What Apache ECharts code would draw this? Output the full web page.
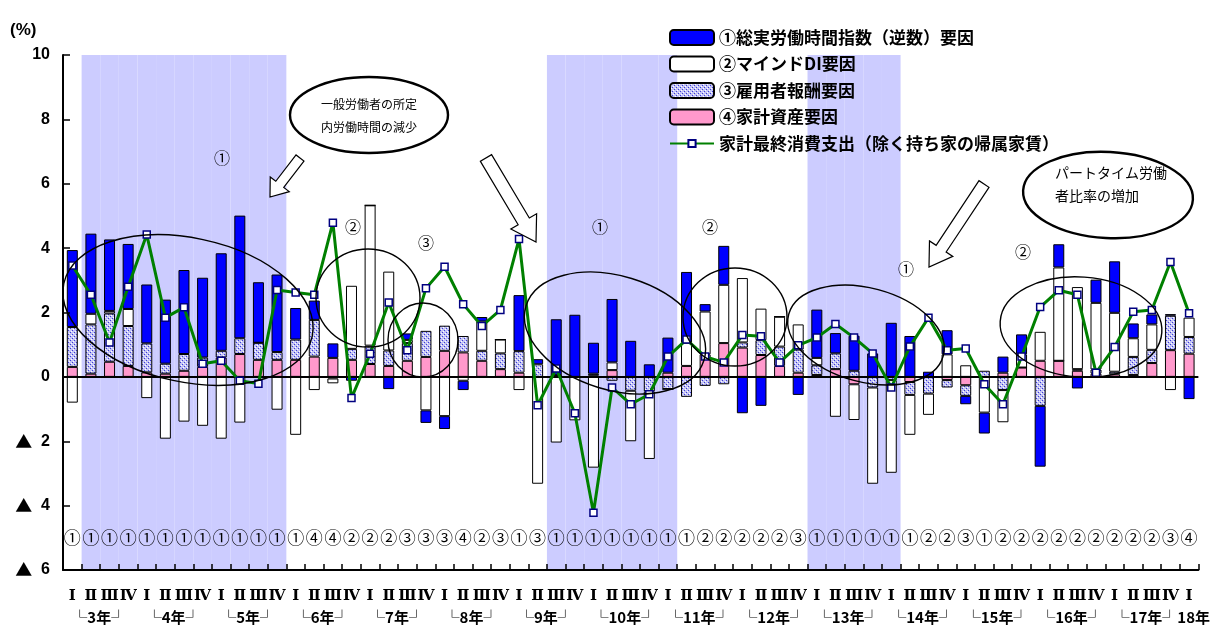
<!DOCTYPE html>
<html>
<head>
<meta charset="utf-8">
<script src="https://cdn.jsdelivr.net/npm/echarts@6/dist/echarts.min.js"></script>
<style>
  html, body { margin: 0; padding: 0; background: #ffffff; }
  #chart { width: 1213px; height: 628px; }
</style>
</head>
<body>
<div id="chart"></div>
<script>
// Quarters from 平成3年Ⅰ to 平成18年Ⅰ
const fiscalYears = [3, 4, 5, 6, 7, 8, 9, 10, 11, 12, 13, 14, 15, 16, 17];
const quarterNames = ['Ⅰ', 'Ⅱ', 'Ⅲ', 'Ⅳ'];
const categories = [];
fiscalYears.forEach(y => quarterNames.forEach(q => categories.push(y + '年' + q)));
categories.push('18年Ⅰ');

// Year brackets written under each year's first quarter
const yearLabels = ['└3年┘', '└4年┘', '└5年┘', '└6年┘', '└7年┘', '└8年┘', '└9年┘', '└10年┘',
  '└11年┘', '└12年┘', '└13年┘', '└14年┘', '└15年┘', '└16年┘', '└17年┘18年'];

// 1 = quarter inside a shaded (recession) period
const recessionBand = [
  0, 1, 1, 1, 1, 1, 1, 1, 1, 1, 1, 1,
  0, 0, 0, 0, 0, 0, 0, 0, 0, 0, 0, 0, 0, 0,
  1, 1, 1, 1, 1, 1, 1,
  0, 0, 0, 0, 0, 0, 0,
  1, 1, 1, 1, 1,
  0, 0, 0, 0, 0, 0, 0, 0, 0, 0, 0, 0, 0, 0, 0, 0
];

// Main contributing factor of each quarter
const leadFactorMarks = [
  '①', '①', '①', '①', '①', '①', '①', '①', '①', '①', '①', '①',
  '①', '④', '④', '②', '②', '②', '③', '③', '③', '④', '②', '③', '①', '③',
  '①', '①', '①', '①', '①', '①', '①',
  '①', '②', '②', '②', '②', '②', '③',
  '①', '①', '①', '①', '①',
  '①', '②', '②', '③', '①', '②', '②', '②', '②', '②', '②', '②', '②', '②', '③', '④'
];

// ① 総実労働時間指数（逆数）要因
const hoursFactor = [
  2.39, 2.49, 2.22, 2.02, 1.83, 1.99, 2.61, 2.48, 3.03, 3.81, 1.88, 2.41,
  0.98, 0.60, 0.45, -0.12, 0, -0.38, 0.20, -0.39, -0.40, -0.29, 0.14, 0, 1.74, 0.16,
  1.74, 1.93, 0.96, 1.97, 1.12, 0.39, 1.09,
  2.20, 0.23, 1.21, -1.13, -0.90, 0, -0.56,
  1.50, 0.63, 1.09, 0.73, 1.68,
  1.27, 0.16, 0.75, -0.26, -0.65, 0.50, 0.62, -1.89, 0.72, -0.36, 0.72, 1.60, 0.46, 0.31, 0.05, -0.69
];
// ② マインドDI要因
const mindFactor = [
  -0.80, 0.33, 0.08, 0.53, -0.66, -1.92, -1.39, -1.52, -1.92, -1.42, 0, -1.02,
  -1.80, -0.41, -0.15, 1.96, 4.36, 2.45, 0.10, -1.04, -1.22, -0.12, 0.91, 0.43, -0.41, -3.32,
  -2.04, -1.35, -2.82, 0.24, -1.57, -2.10, 0,
  0.72, 1.33, 1.81, 2.00, 0.98, 0.93, 0.78,
  0.23, -1.24, -1.11, -2.99, -2.88,
  -1.24, -0.66, 0.70, 0.36, -1.11, -1.00, 0.41, 0.90, 2.90, 2.55, 2.07, 1.83, 0.58, 0.79, -0.41, 0.60
];
// ③ 雇用者報酬要因
const compFactor = [
  1.24, 1.53, 1.50, 1.24, 0.90, 0.31, 0.52, 0.29, 0.21, 0.49, 0.53, 0.24,
  0.63, 1.14, -0.05, 0.34, 0.57, 0.48, 0.55, 0.81, 0.78, 0.51, 0.31, 0.49, 0.67, 0.39,
  0, 0, 0.05, -0.12, -0.43, -0.45, -0.38,
  -0.62, -0.28, -0.23, 0.16, 0.46, 0.60, 0.72,
  0.30, 0.49, 0.19, -0.33, -0.10,
  -0.40, -0.52, -0.23, -0.33, 0.19, -0.41, 0, -0.90, 0, 0.05, 0.13, 0.08, 0.56, 0.41, 1.07, 0.52
];
// ④ 家計資産要因
const assetFactor = [
  0.31, 0.10, 0.47, 0.34, 0.14, 0.10, 0.19, 0.31, 0.60, 0.71, 0.53, 0.53,
  0.53, 0.63, 0.59, 0.53, 0.40, 0.34, 0.50, 0.62, 0.81, 0.76, 0.50, 0.24, 0.13, 0,
  0.05, 0, 0.05, 0.21, 0, 0, 0.13,
  0.34, 0.70, 1.05, 0.91, 0.68, 0.34, 0.13,
  0.06, 0.24, -0.23, 0, 0,
  -0.16, 0, -0.10, -0.26, 0, 0.13, 0.29, 0.50, 0.50, 0.19, 0.10, 0.08, 0.06, 0.43, 0.83, 0.72
];
// 家計最終消費支出（除く持ち家の帰属家賃）前年比
const consumption = [
  3.46, 2.55, 1.07, 2.80, 4.42, 1.84, 2.16, 0.41, 0.50, -0.12, -0.21, 2.70,
  2.62, 2.55, 4.79, -0.66, 0.72, 2.31, 0.83, 2.75, 3.42, 2.26, 1.58, 2.08, 4.28, -0.88,
  0.26, -1.13, -4.22, -0.33, -0.85, -0.54, 0.63,
  1.16, 0.63, 0.45, 1.30, 1.26, 0.45, 0.98,
  1.22, 1.64, 1.22, 0.73, -0.33,
  0.94, 1.84, 0.83, 0.88, -0.23, -0.85, 0.63, 2.17, 2.69, 2.55, 0.13, 0.93, 2.02, 2.08, 3.57, 1.98
];

const NAME_HOURS = '①総実労働時間指数（逆数）要因';
const NAME_MIND = '②マインドDI要因';
const NAME_COMP = '③雇用者報酬要因';
const NAME_ASSET = '④家計資産要因';
const NAME_CONS = '家計最終消費支出（除く持ち家の帰属家賃）';

const JP = '"Noto Sans CJK JP", "Noto Sans", sans-serif';
const legendText = { fontFamily: JP, fontSize: 17, fontWeight: 'bold', color: '#000' };

// Small dotted texture for the compensation factor
function dotPattern() {
  const c = document.createElement('canvas');
  c.width = 4; c.height = 4;
  const g = c.getContext('2d');
  g.fillStyle = '#c4c4f4'; g.fillRect(0, 0, 4, 4);
  g.fillStyle = '#ffffff'; g.fillRect(1, 1, 1, 1); g.fillRect(3, 3, 1, 1);
  g.fillStyle = '#3c3cd8'; g.fillRect(2, 0, 1, 1); g.fillRect(0, 2, 1, 1);
  return c;
}

// Block arrow outline from tail point to tip
function blockArrow(tail, tip, shaft, head, headLen) {
  const dx = tip[0] - tail[0], dy = tip[1] - tail[1];
  const L = Math.hypot(dx, dy), ux = dx / L, uy = dy / L, nx = -uy, ny = ux;
  const bx = tip[0] - ux * headLen, by = tip[1] - uy * headLen;
  const p = (x, y, s) => [x + nx * s, y + ny * s];
  return {
    type: 'polygon', z: 100, silent: true,
    shape: { points: [p(tail[0], tail[1], shaft / 2), p(bx, by, shaft / 2), p(bx, by, head / 2), tip,
      p(bx, by, -head / 2), p(bx, by, -shaft / 2), p(tail[0], tail[1], -shaft / 2)] },
    style: { fill: '#ffffff', stroke: '#000000', lineWidth: 1.2 }
  };
}

function ring(cx, cy, rx, ry, deg, lw) {
  return {
    type: 'ellipse', x: cx, y: cy, rotation: deg * Math.PI / 180, z: 100, silent: true,
    shape: { cx: 0, cy: 0, rx: rx, ry: ry },
    style: { fill: null, stroke: '#000000', lineWidth: lw || 1.4 }
  };
}

function note(x, y, text, size, align) {
  return {
    type: 'text', x: x, y: y, z: 101, silent: true,
    style: { text: text, fill: '#000', font: (size || 16) + 'px ' + JP,
      textAlign: align || 'center', textVerticalAlign: 'middle' }
  };
}

const barBase = {
  type: 'bar', stack: 'factors', barWidth: 11, z: 2,
  xAxisIndex: 0, yAxisIndex: 0
};

const option = {
  animation: false,
  backgroundColor: '#ffffff',
  grid: { left: 63, right: 12, top: 55, bottom: 58 },
  legend: [
    {
      orient: 'vertical', left: 664, top: 24,
      itemWidth: 44, itemHeight: 15, itemGap: 9.5,
      selectedMode: false,
      data: [NAME_HOURS, NAME_MIND, NAME_COMP, NAME_ASSET],
      textStyle: legendText
    },
    {
      orient: 'vertical', left: 664, top: 130,
      itemWidth: 44, itemHeight: 9,
      selectedMode: false,
      data: [NAME_CONS],
      textStyle: legendText
    }
  ],
  xAxis: [
    {
      type: 'category', data: categories, position: 'bottom', z: 5,
      axisLine: { onZero: false, lineStyle: { color: '#000', width: 2 } },
      axisTick: { show: true, inside: true, length: 6, interval: 0, lineStyle: { color: '#000', width: 1.5 } },
      axisLabel: {
        interval: 0, margin: 19, color: '#000', fontSize: 15, fontWeight: 'bold',
        fontFamily: '"DejaVu Serif", "Noto Sans CJK JP", serif',
        formatter: (v, i) => quarterNames[i % 4]
      }
    },
    {
      type: 'category', data: categories, position: 'bottom', z: 5,
      axisLine: { show: false }, axisTick: { show: false },
      axisLabel: {
        interval: 0, margin: 40, align: 'left', color: '#000', fontSize: 15, fontWeight: 'bold', fontFamily: JP,
        formatter: (v, i) => (i % 4 === 0 && yearLabels[i / 4]) ? yearLabels[i / 4] : ''
      }
    },
    {
      type: 'category', data: categories, position: 'bottom', offset: -41, z: 5,
      axisLine: { show: false }, axisTick: { show: false },
      axisLabel: {
        interval: 0, margin: 0, color: '#000', fontSize: 17, fontFamily: JP,
        formatter: (v, i) => leadFactorMarks[i]
      }
    }
  ],
  yAxis: [
    {
      type: 'value', min: -6, max: 10, interval: 2, z: 5,
      axisLine: { show: true, lineStyle: { color: '#000', width: 2 } },
      axisTick: { show: true, inside: true, length: 7, lineStyle: { color: '#000', width: 1.5 } },
      splitLine: { show: false },
      axisLabel: {
        margin: 13, color: '#000', fontSize: 16, fontWeight: 'bold',
        fontFamily: '"Liberation Sans", "DejaVu Sans", sans-serif',
        formatter: v => v < 0 ? '{tri|▲}  ' + (-v) : String(v),
        rich: { tri: { fontFamily: JP, fontSize: 17, fontWeight: 'bold', color: '#000' } }
      }
    },
    { type: 'value', min: 0, max: 1, show: false }
  ],
  series: [
    {
      name: 'recession', type: 'bar', xAxisIndex: 2, yAxisIndex: 1, data: recessionBand,
      barWidth: '100%', silent: true, z: 1, itemStyle: { color: '#ccccff' }
    },
    Object.assign({}, barBase, {
      name: NAME_ASSET, data: assetFactor,
      itemStyle: { color: '#ff99cc', borderColor: '#000', borderWidth: 1 },
      markLine: {
        silent: true, symbol: ['none', 'none'], label: { show: false },
        lineStyle: { color: '#000', width: 2, type: 'solid' }, data: [{ yAxis: 0 }]
      }
    }),
    Object.assign({}, barBase, {
      name: NAME_COMP, data: compFactor,
      itemStyle: { color: { image: dotPattern(), repeat: 'repeat' }, borderColor: '#000', borderWidth: 1 }
    }),
    Object.assign({}, barBase, {
      name: NAME_MIND, data: mindFactor,
      itemStyle: { color: '#ffffff', borderColor: '#000', borderWidth: 1 }
    }),
    Object.assign({}, barBase, {
      name: NAME_HOURS, data: hoursFactor,
      itemStyle: { color: '#0000ff', borderColor: '#000', borderWidth: 1 }
    }),
    {
      name: NAME_CONS, type: 'line', data: consumption, z: 6,
      symbol: 'rect', symbolSize: 7,
      lineStyle: { color: '#008000', width: 3 },
      itemStyle: { color: '#ffffff', borderColor: '#000080', borderWidth: 1.5 }
    }
  ],
  graphic: [
    { type: 'text', x: 10, y: 30, z: 101, silent: true,
      style: { text: '(%)', fill: '#000', font: 'bold 17px "Liberation Sans", sans-serif', textVerticalAlign: 'middle' } },
    // grouped periods
    ring(188, 310, 127, 72, -12),
    ring(368, 298, 52, 49, 0),
    ring(423, 340, 35, 37, 0),
    ring(615, 333, 93, 57, -17),
    ring(735, 317, 52, 49, 0),
    ring(866, 335, 80, 47, -15),
    ring(1081, 327, 81, 50, -4),
    // call-outs
    ring(369, 115, 79, 38, 0, 2.4),
    note(369, 104, '一般労働者の所定', 12),
    note(369, 127, '内労働時間の減少', 12),
    ring(1108, 195, 85, 43, -3, 2.4),
    note(1055, 173, 'パートタイム労働', 14, 'left'),
    note(1055, 196, '者比率の増加', 14, 'left'),
    blockArrow([300, 158], [270, 197], 10, 24, 16),
    blockArrow([486, 158], [536, 242], 13, 30, 24),
    blockArrow([984, 184], [929, 267], 12, 28, 22),
    note(222, 158, '①'),
    note(353, 227, '②'),
    note(426, 243, '③'),
    note(600, 227, '①'),
    note(710, 227, '②'),
    note(906, 269, '①'),
    note(1023, 252, '②')
  ]
};

const chart = echarts.init(document.getElementById('chart'), null, { renderer: 'canvas' });
chart.setOption(option);
</script>
</body>
</html>
